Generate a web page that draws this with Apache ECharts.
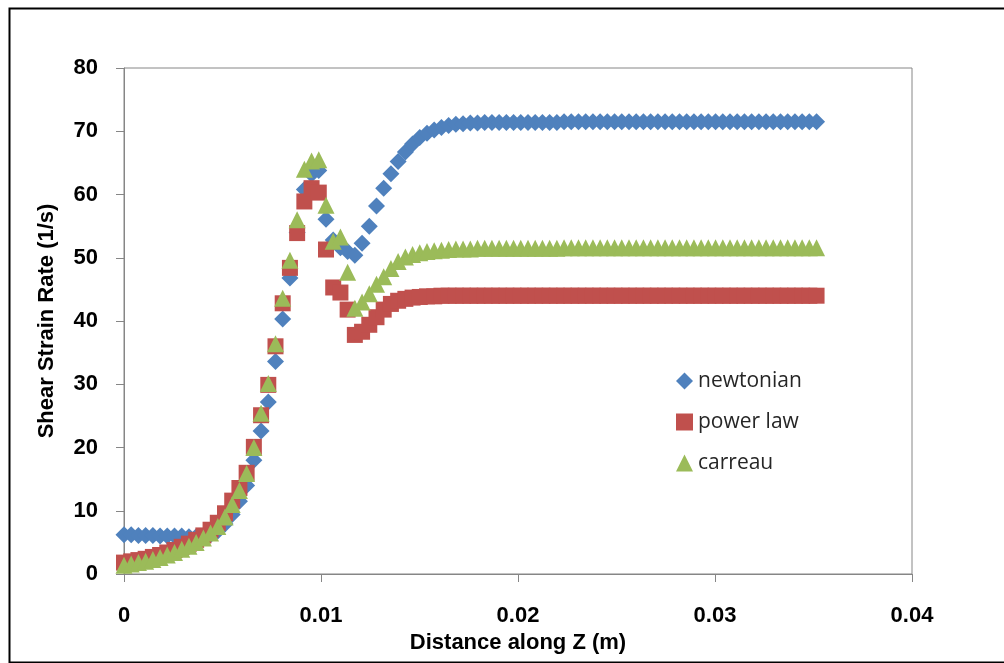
<!DOCTYPE html>
<html>
<head>
<meta charset="utf-8">
<script src="https://cdn.jsdelivr.net/npm/echarts@6/dist/echarts.min.js"></script>
<style>
	html, body { margin: 0; padding: 0; background: #fff; }
	#shearchart { width: 1004px; height: 663px; }
</style>
</head>
<body>
<div id="shearchart"></div>
<script>
	'use strict';

	/* data */
	var zPos = [
		0, 0.000366, 0.000732, 0.001099, 0.001465, 0.001831, 0.002197, 0.002563, 0.00293, 0.003296,
		0.003662, 0.004028, 0.004394, 0.004761, 0.005127, 0.005493, 0.005859, 0.006225, 0.006592, 0.006958,
		0.007324, 0.00769, 0.008056, 0.008423, 0.008789, 0.009155, 0.009521, 0.009887, 0.010254, 0.01062,
		0.010986, 0.011352, 0.011718, 0.012085, 0.012451, 0.012817, 0.013183, 0.013549, 0.013916, 0.014282,
		0.014648, 0.015014, 0.01538, 0.015747, 0.016113, 0.016479, 0.016845, 0.017211, 0.017578, 0.017944,
		0.01831, 0.018676, 0.019042, 0.019409, 0.019775, 0.020141, 0.020507, 0.020873, 0.02124, 0.021606,
		0.021972, 0.022338, 0.022704, 0.023071, 0.023437, 0.023803, 0.024169, 0.024535, 0.024902, 0.025268,
		0.025634, 0.026, 0.026366, 0.026733, 0.027099, 0.027465, 0.027831, 0.028197, 0.028564, 0.02893,
		0.029296, 0.029662, 0.030028, 0.030395, 0.030761, 0.031127, 0.031493, 0.031859, 0.032226, 0.032592,
		0.032958, 0.033324, 0.03369, 0.034057, 0.034423, 0.034789, 0.035155
	];
	var newtonian = [
		6.2, 6.2, 6.1, 6.1, 6.1, 6.0, 6.0, 6.0, 6.0, 5.9,
		5.9, 5.9, 6.2, 6.8, 7.9, 9.4, 11.5, 14.0, 18.0, 22.6,
		27.2, 33.6, 40.3, 46.8, 54.0, 60.8, 63.2, 63.8, 56.1, 52.8,
		51.6, 51.0, 50.4, 52.3, 55.0, 58.2, 61.0, 63.3, 65.2, 66.7,
		68.0, 69.0, 69.7, 70.2, 70.6, 70.9, 71.1, 71.2, 71.3, 71.3,
		71.4, 71.4, 71.4, 71.4, 71.4, 71.4, 71.4, 71.4, 71.4, 71.4,
		71.4, 71.5, 71.5, 71.5, 71.5, 71.5, 71.5, 71.5, 71.5, 71.5,
		71.5, 71.5, 71.5, 71.5, 71.5, 71.5, 71.5, 71.5, 71.5, 71.5,
		71.5, 71.5, 71.5, 71.5, 71.5, 71.5, 71.5, 71.5, 71.5, 71.5,
		71.5, 71.5, 71.5, 71.5, 71.5, 71.5, 71.5
	];
	var powerLaw = [
		1.8, 2.0, 2.2, 2.4, 2.7, 3.0, 3.4, 3.8, 4.3, 4.8,
		5.4, 6.1, 7.0, 8.1, 9.6, 11.6, 13.6, 16.0, 20.1, 25.1,
		29.9, 36.0, 42.8, 48.4, 53.9, 58.9, 61.0, 60.3, 51.3, 45.3,
		44.5, 41.8, 37.8, 38.3, 39.4, 40.6, 41.8, 42.7, 43.2, 43.5,
		43.7, 43.8, 43.9, 43.9, 44.0, 44.0, 44.0, 44.0, 44.0, 44.0,
		44.0, 44.0, 44.0, 44.0, 44.0, 44.0, 44.0, 44.0, 44.0, 44.0,
		44.0, 44.0, 44.0, 44.0, 44.0, 44.0, 44.0, 44.0, 44.0, 44.0,
		44.0, 44.0, 44.0, 44.0, 44.0, 44.0, 44.0, 44.0, 44.0, 44.0,
		44.0, 44.0, 44.0, 44.0, 44.0, 44.0, 44.0, 44.0, 44.0, 44.0,
		44.0, 44.0, 44.0, 44.0, 44.0, 44.0, 44.0
	];
	var carreau = [
		1.4, 1.6, 1.8, 2.0, 2.3, 2.6, 3.0, 3.4, 3.9, 4.4,
		5.0, 5.7, 6.5, 7.5, 9.0, 11.0, 13.2, 15.9, 20.0, 25.4,
		30.1, 36.4, 43.6, 49.6, 56.0, 64.0, 65.3, 65.5, 58.3, 52.6,
		53.3, 47.7, 42.0, 43.0, 44.3, 45.8, 47.0, 48.3, 49.4, 50.1,
		50.5, 50.8, 51.0, 51.1, 51.2, 51.3, 51.4, 51.4, 51.4, 51.5,
		51.5, 51.5, 51.5, 51.5, 51.5, 51.5, 51.5, 51.5, 51.5, 51.5,
		51.5, 51.6, 51.6, 51.6, 51.6, 51.6, 51.6, 51.6, 51.6, 51.6,
		51.6, 51.6, 51.6, 51.6, 51.6, 51.6, 51.6, 51.6, 51.6, 51.6,
		51.6, 51.6, 51.6, 51.6, 51.6, 51.6, 51.6, 51.6, 51.6, 51.6,
		51.6, 51.6, 51.6, 51.6, 51.6, 51.6, 51.6
	];
	var seriesNames = ['newtonian', 'power law', 'carreau'];
	var xTicks = [0, 0.01, 0.02, 0.03, 0.04];
	var yTicks = [0, 10, 20, 30, 40, 50, 60, 70, 80];

	function pairs(vals) {
		return zPos.map(function(z, i) { return [z, vals[i]]; });
	}

	var axisGrey = '#868686';
	var labelFont = {
		fontFamily: 'Liberation Sans',
		fontWeight: 'bold',
		fontSize: 22,
		color: '#000'
	};

	var option = {
		animation: false,
		backgroundColor: '#fff',
		color: ['#4F81BD', '#C0504D', '#9BBB59'],
		graphic: [{
			type: 'rect',
			left: 7,
			top: 6,
			shape: { width: 1010, height: 654 },
			style: { fill: 'none', stroke: '#000', lineWidth: 2 }
		}],
		grid: {
			left: 124,
			right: 92,
			top: 68,
			bottom: 89,
			show: true,
			borderColor: axisGrey,
			borderWidth: 1
		},
		legend: {
			orient: 'vertical',
			left: 671,
			top: 365,
			itemWidth: 17,
			itemHeight: 17,
			itemGap: 19,
			data: seriesNames,
			itemStyle: { opacity: 1 },
			textStyle: {
				fontFamily: 'Open Sans',
				fontSize: 21,
				lineHeight: 22,
				color: '#262626'
			}
		},
		xAxis: {
			type: 'value',
			min: xTicks[0],
			max: xTicks[xTicks.length - 1],
			interval: 0.01,
			name: 'Distance along Z (m)',
			nameLocation: 'middle',
			nameGap: 54,
			nameTextStyle: labelFont,
			splitLine: { show: false },
			axisLine: { lineStyle: { color: axisGrey, width: 1 } },
			axisTick: { length: 8, lineStyle: { color: axisGrey } },
			axisLabel: Object.assign({ margin: 31 }, labelFont)
		},
		yAxis: {
			type: 'value',
			min: yTicks[0],
			max: yTicks[yTicks.length - 1],
			interval: 10,
			name: 'Shear Strain Rate (1/s)',
			nameLocation: 'middle',
			nameGap: 66,
			nameTextStyle: labelFont,
			splitLine: { show: false },
			axisLine: { show: true, lineStyle: { color: axisGrey, width: 1 } },
			axisTick: { show: true, length: 8, lineStyle: { color: axisGrey } },
			axisLabel: Object.assign({ margin: 26 }, labelFont)
		},
		series: [
			{
				name: seriesNames[0],
				type: 'scatter',
				symbol: 'diamond',
				symbolSize: [17, 17],
				itemStyle: { opacity: 1 },
				data: pairs(newtonian)
			},
			{
				name: seriesNames[1],
				type: 'scatter',
				symbol: 'rect',
				symbolSize: 16,
				itemStyle: { opacity: 1 },
				data: pairs(powerLaw)
			},
			{
				name: seriesNames[2],
				type: 'scatter',
				symbol: 'triangle',
				symbolSize: [17, 17],
				itemStyle: { opacity: 1 },
				data: pairs(carreau)
			}
		]
	};

	var chartEl = document.getElementById('shearchart');
	var shearChart = echarts.init(chartEl);
	shearChart.setOption(option);
</script>
</body>
</html>
